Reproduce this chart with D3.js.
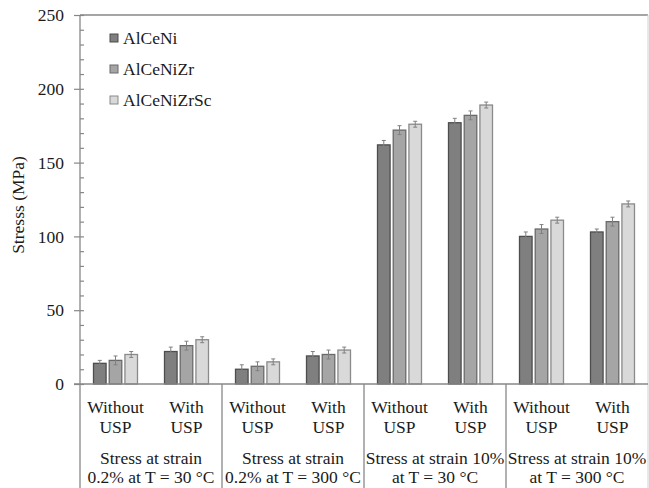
<!DOCTYPE html>
<html>
<head>
<meta charset="utf-8">
<script src="https://cdn.jsdelivr.net/npm/d3@7"></script>
<style>
  html, body { margin: 0; padding: 0; background: #fff; }
</style>
</head>
<body>
<svg id="chart" width="649" height="488"></svg>
<script>
// Alloy series
const series = ["AlCeNi", "AlCeNiZr", "AlCeNiZrSc"];

// Test conditions (two text lines each) and processing states
const conditions = [
  ["Stress at strain", "0.2% at T = 30 °C"],
  ["Stress at strain", "0.2% at T = 300 °C"],
  ["Stress at strain 10%", "at T = 30 °C"],
  ["Stress at strain 10%", "at T = 300 °C"]
];
const states = [["Without", "USP"], ["With", "USP"]];

// Stress (MPa) per condition, state (without/with USP), alloy
const AlCeNi     = [14, 22, 10, 19, 162, 177, 100, 103];
const AlCeNiZr   = [16, 26, 12, 20, 172, 182, 105, 110];
const AlCeNiZrSc = [20, 30, 15, 23, 176, 189, 111, 122];

// Standard deviations (MPa)
const errAlCeNi     = [2, 3, 3, 3, 3, 3, 3, 2];
const errAlCeNiZr   = [3, 3, 3, 3, 3, 3, 3, 3];
const errAlCeNiZrSc = [2, 2, 2, 2, 2, 2, 2, 2];

const yMajorTicks = [0, 50, 100, 150, 200, 250];

const values = [AlCeNi, AlCeNiZr, AlCeNiZrSc];
const errors = [errAlCeNi, errAlCeNiZr, errAlCeNiZrSc];
const fills = ["#7f7f7f", "#a5a5a5", "#d9d9d9"];
const strokes = ["#4d4d4d", "#6a6a6a", "#8a8a8a"];

const FONT = "'Liberation Serif', 'Times New Roman', serif";
const FS = 17.5;
const ink = "#1a1a1a";

const svg = d3.select("#chart").attr("font-family", FONT);
const mLeft = 80, mRight = 648, mTop = 15, zeroY = 384, mBottom = 488;

function label(sel, xPos, yPos, txt, anchor) {
  return sel.append("text").attr("x", xPos).attr("y", yPos)
    .attr("text-anchor", anchor || "middle")
    .attr("font-size", FS).attr("fill", ink)
    .style("font-family", FONT)
    .text(txt);
}

const subgroups = d3.range(conditions.length * states.length);
const x = d3.scaleBand().domain(subgroups).range([mLeft, mRight]).padding(0);
const xInner = d3.scaleBand().domain(series).range([0, x.bandwidth()])
  .paddingInner(0.2).paddingOuter(0.86);
const y = d3.scaleLinear().domain([0, 250]).range([zeroY, mTop]);

const grey = "#878787";

// plot frame: top and right edges
svg.append("line").attr("x1", mLeft).attr("x2", mRight).attr("y1", mTop).attr("y2", mTop)
  .attr("stroke", grey).attr("stroke-width", 1.3);
svg.append("line").attr("x1", mRight).attr("x2", mRight).attr("y1", mTop).attr("y2", mBottom)
  .attr("stroke", "#d0d0d0").attr("stroke-width", 1);

// y axis: major ticks outside with labels, every 10 MPa a short tick inside
const yAxis = svg.append("g").attr("transform", `translate(${mLeft},0)`)
  .call(d3.axisLeft(y).tickValues(yMajorTicks).tickSize(6).tickPadding(10).tickFormat(d3.format("d")));
yAxis.attr("font-family", FONT);
yAxis.select(".domain").remove();
yAxis.selectAll("line").attr("stroke", grey).attr("stroke-width", 1.2);
yAxis.selectAll("text").attr("font-size", FS).attr("fill", ink)
  .style("font-family", FONT);

const yMinor = svg.append("g").attr("transform", `translate(${mLeft},0)`)
  .call(d3.axisRight(y).tickValues(d3.range(0, 251, 10)).tickSize(4).tickFormat(""));
yMinor.select(".domain").remove();
yMinor.selectAll("line").attr("stroke", grey).attr("stroke-width", 1.2);

// axis line running down through the category labels
svg.append("line").attr("x1", mLeft).attr("x2", mLeft).attr("y1", mTop).attr("y2", mBottom)
  .attr("stroke", grey).attr("stroke-width", 1.3);

// bars
const flat = [];
subgroups.forEach(i => series.forEach((s, k) => flat.push({ i, s, k, v: values[k][i], e: errors[k][i] })));

svg.append("g").selectAll("rect").data(flat).join("rect")
  .attr("x", d => x(d.i) + xInner(d.s))
  .attr("y", d => y(d.v))
  .attr("width", xInner.bandwidth())
  .attr("height", d => y(0) - y(d.v))
  .attr("fill", d => fills[d.k])
  .attr("stroke", d => strokes[d.k])
  .attr("stroke-width", 1.3);

// error bars
const eb = svg.append("g").attr("stroke", "#808080").attr("stroke-width", 1);
flat.forEach(d => {
  const cx = x(d.i) + xInner(d.s) + xInner.bandwidth() / 2;
  eb.append("line").attr("x1", cx).attr("x2", cx).attr("y1", y(d.v + d.e)).attr("y2", y(d.v - d.e));
  eb.append("line").attr("x1", cx - 2).attr("x2", cx + 2).attr("y1", y(d.v + d.e)).attr("y2", y(d.v + d.e));
  eb.append("line").attr("x1", cx - 2).attr("x2", cx + 2).attr("y1", y(d.v - d.e)).attr("y2", y(d.v - d.e));
});

// zero line
svg.append("line").attr("x1", mLeft - 6).attr("x2", mRight).attr("y1", zeroY).attr("y2", zeroY)
  .attr("stroke", grey).attr("stroke-width", 1.3);

// category separators below the axis
const xGroup = d3.scaleBand().domain(d3.range(conditions.length)).range([mLeft, mRight]);
svg.append("g").selectAll("line").data(d3.range(1, conditions.length)).join("line")
  .attr("x1", d => xGroup(d)).attr("x2", d => xGroup(d))
  .attr("y1", zeroY).attr("y2", mBottom)
  .attr("stroke", grey).attr("stroke-width", 1.3);

// state labels
subgroups.forEach(i => {
  const st = states[i % states.length];
  const cx = x(i) + x.bandwidth() / 2;
  label(svg, cx, 413, st[0]);
  label(svg, cx, 433, st[1]);
});

// condition labels
conditions.forEach((c, g) => {
  const cx = xGroup(g) + xGroup.bandwidth() / 2;
  label(svg, cx, 464, c[0]);
  label(svg, cx, 483, c[1]);
});

// y title
label(svg, 0, 0, "Stresss (MPa)").attr("transform", "translate(24,205) rotate(-90)");

// legend
const legend = svg.append("g");
series.forEach((s, k) => {
  const cy = 38 + k * 31;
  legend.append("rect").attr("x", 110).attr("y", cy - 4).attr("width", 8).attr("height", 8)
    .attr("fill", fills[k]).attr("stroke", strokes[k]).attr("stroke-width", 1);
  label(legend, 123, cy + 6, s, "start");
});
</script>
</body>
</html>
